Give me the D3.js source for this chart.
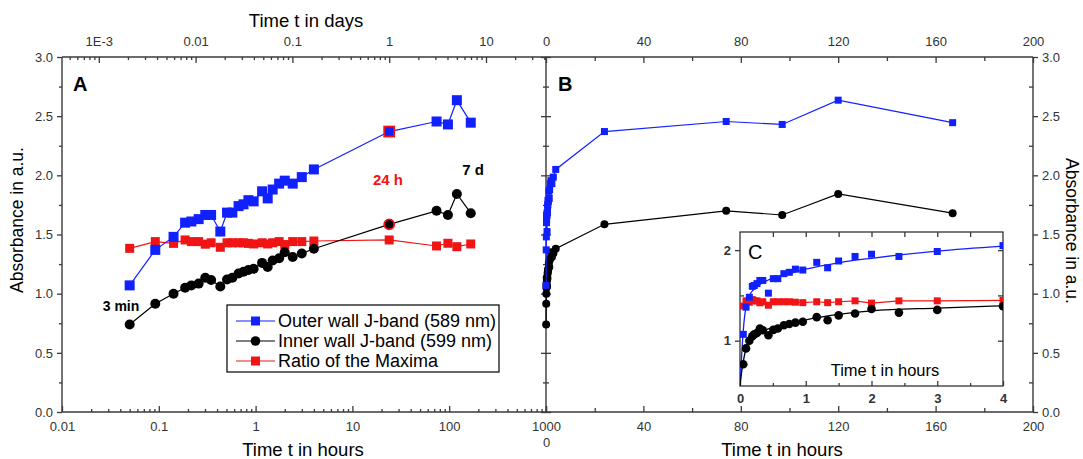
<!DOCTYPE html>
<html><head><meta charset="utf-8">
<script src="https://cdn.jsdelivr.net/npm/d3@7"></script>
<style>
body{margin:0;background:#fff;}
svg{display:block;font-family:"Liberation Sans",Arial,sans-serif;}
.axis path,.axis line{stroke:#3a3a3a;stroke-width:1.3;}
.axis text{fill:#333;font-size:13px;font-family:"Liberation Sans",Arial,sans-serif;}
</style></head>
<body>
<svg id="c" width="1083" height="459"></svg>
<script>
// time in hours
const hours = [0.05,0.092,0.142,0.187,0.217,0.258,0.302,0.347,0.432,0.507,0.575,0.667,0.75,0.843,0.955,1.167,1.333,1.5,1.75,2.0,2.417,3.0,4.0,24,74,97,120,167];
const outerWall = [1.07,1.37,1.48,1.60,1.61,1.63,1.665,1.665,1.525,1.685,1.685,1.74,1.755,1.79,1.78,1.865,1.805,1.88,1.93,1.955,1.93,1.985,2.05,2.37,2.455,2.43,2.635,2.445];
const innerWall = [0.74,0.915,1.0,1.05,1.07,1.085,1.135,1.115,1.06,1.12,1.135,1.17,1.185,1.2,1.21,1.26,1.225,1.28,1.30,1.35,1.31,1.34,1.38,1.586,1.70,1.665,1.843,1.68];
const ratioMax = [1.383,1.44,1.425,1.454,1.44,1.44,1.418,1.43,1.392,1.43,1.43,1.43,1.43,1.425,1.42,1.43,1.42,1.43,1.44,1.415,1.44,1.44,1.445,1.454,1.403,1.426,1.397,1.42];
// fit curves shown in inset C
const outerFitT = [0,0.03,0.06,0.1,0.15,0.2,0.3,0.43,0.7,1.0,1.5,2.0,3.0,4.0];
const outerFitV = [0.5,0.9,1.2,1.4,1.51,1.56,1.62,1.67,1.73,1.79,1.86,1.91,1.99,2.045];
const innerFitT = [0,0.03,0.05,0.1,0.15,0.2,0.3,0.43,0.7,1.0,1.5,2.0,3.0,4.0];
const innerFitV = [0.5,0.68,0.77,0.93,1.0,1.04,1.09,1.13,1.18,1.23,1.29,1.33,1.36,1.385];
// tick labels
const yTicks = [0,0.5,1,1.5,2,2.5,3];
const hourTicksLog = [0.01,0.1,1,10,100,1000];
const dayTicksLog = [0.001,0.01,0.1,1,10];
const dayTickLabels = ["1E-3","0.01","0.1","1","10"];
const hourTicksLin = [0,40,80,120,160,200];
const insetXTicks = [0,1,2,3,4];
const insetYTicks = [1,2];
const legendLabels = ["Outer wall J-band (589 nm)","Inner wall J-band (599 nm)","Ratio of the Maxima"];

const BLUE="#1020ff", RED="#f01414", BLACK="#000";
const svg = d3.select("#c");

const xA = d3.scaleLog().domain([0.01,1000]).range([62,546]);
const xAtop = d3.scaleLog().domain([0.01/24,1000/24]).range([62,546]);
const y = d3.scaleLinear().domain([0,3]).range([412,57]);
const xB = d3.scaleLinear().domain([0,200]).range([546,1033]);
const xC = d3.scaleLinear().domain([0,4]).range([740,1003]);
const yC = d3.scaleLinear().domain([0.5,2.2]).range([386,232]);

function logMinor(lo,hi){const r=[];for(let e=-4;e<=3;e++){for(let m=2;m<=9;m++){const v=m*Math.pow(10,e);if(v>lo&&v<hi)r.push(v);}}return r;}
function styleAxis(g){g.attr("class","axis");g.select(".domain").remove();}

// axis lines (frames)
const frame = svg.append("g").attr("stroke","#3a3a3a").attr("stroke-width",1.4).attr("fill","none");
frame.append("line").attr("x1",62).attr("x2",1033).attr("y1",57).attr("y2",57);
frame.append("line").attr("x1",62).attr("x2",1033).attr("y1",412).attr("y2",412);
frame.append("line").attr("x1",62).attr("x2",62).attr("y1",57).attr("y2",412);
frame.append("line").attr("x1",546).attr("x2",546).attr("y1",57).attr("y2",412);
frame.append("line").attr("x1",1033).attr("x2",1033).attr("y1",57).attr("y2",412);

// Panel A bottom
svg.append("g").attr("transform","translate(0,412)").call(d3.axisBottom(xA).tickValues(hourTicksLog).tickFormat(d=>d3.format("~g")(d)).tickSize(-6).tickPadding(14)).call(styleAxis)
  .selectAll("text").attr("dy","0.35em");
svg.append("g").attr("transform","translate(0,412)").call(d3.axisBottom(xA).tickValues(logMinor(0.01,1000)).tickFormat("").tickSize(-3)).call(styleAxis);
// Panel A top (days)
svg.append("g").attr("transform","translate(0,57)").call(d3.axisTop(xAtop).tickValues(dayTicksLog).tickFormat((d,i)=>dayTickLabels[i]).tickSize(-6).tickPadding(11)).call(styleAxis);
svg.append("g").attr("transform","translate(0,57)").call(d3.axisTop(xAtop).tickValues(logMinor(0.01/24,1000/24)).tickFormat("").tickSize(-3)).call(styleAxis);
// Panel A left
svg.append("g").attr("transform","translate(62,0)").call(d3.axisLeft(y).tickValues(yTicks).tickFormat(d3.format(".1f")).tickSize(5).tickPadding(4)).call(styleAxis);
svg.append("g").attr("transform","translate(62,0)").call(d3.axisLeft(y).tickValues([0.25,0.75,1.25,1.75,2.25,2.75]).tickFormat("").tickSize(3)).call(styleAxis);
// Panel B left (crossing ticks)
svg.append("g").attr("transform","translate(551,0)").call(d3.axisLeft(y).tickValues(yTicks).tickFormat("").tickSize(10)).call(styleAxis);
svg.append("g").attr("transform","translate(549,0)").call(d3.axisLeft(y).tickValues([0.25,0.75,1.25,1.75,2.25,2.75]).tickFormat("").tickSize(6)).call(styleAxis);
// Panel B right
svg.append("g").attr("transform","translate(1033,0)").call(d3.axisRight(y).tickValues(yTicks).tickFormat(d3.format(".1f")).tickSize(5).tickPadding(4)).call(styleAxis);
svg.append("g").attr("transform","translate(1033,0)").call(d3.axisRight(y).tickValues([0.25,0.75,1.25,1.75,2.25,2.75]).tickFormat("").tickSize(-4)).call(styleAxis);
// Panel B top
svg.append("g").attr("transform","translate(0,57)").call(d3.axisTop(xB).tickValues(hourTicksLin).tickFormat(d3.format("d")).tickSize(-6).tickPadding(11)).call(styleAxis);
svg.append("g").attr("transform","translate(0,57)").call(d3.axisTop(xB).tickValues([20,60,100,140,180]).tickFormat("").tickSize(-4)).call(styleAxis);
// Panel B bottom
const bb = svg.append("g").attr("transform","translate(0,412)").call(d3.axisBottom(xB).tickValues(hourTicksLin).tickFormat(d3.format("d")).tickSize(-6).tickPadding(14)).call(styleAxis);
bb.selectAll("text").attr("dy","0.35em");
bb.selectAll(".tick").filter(d=>d===0).select("text").attr("y",30).attr("fill","#666");
svg.append("g").attr("transform","translate(0,412)").call(d3.axisBottom(xB).tickValues([20,60,100,140,180]).tickFormat("").tickSize(-4)).call(styleAxis);

// titles
svg.append("text").attr("x",303).attr("y",456).attr("text-anchor","middle").attr("font-size",18.5).text("Time t in hours");
svg.append("text").attr("x",782).attr("y",456).attr("text-anchor","middle").attr("font-size",18.5).text("Time t in hours");
svg.append("text").attr("x",306).attr("y",27).attr("text-anchor","middle").attr("font-size",18.5).text("Time t in days");
svg.append("text").attr("transform","translate(23,220) rotate(-90)").attr("text-anchor","middle").attr("font-size",17.5).text("Absorbance in a.u.");
svg.append("text").attr("transform","translate(1066,231) rotate(90)").attr("text-anchor","middle").attr("font-size",17.5).text("Absorbance in a.u.");

// annotations
svg.append("text").attr("x",73).attr("y",91).attr("font-size",20).attr("font-weight","bold").text("A");
svg.append("text").attr("x",558).attr("y",91).attr("font-size",20).attr("font-weight","bold").text("B");
svg.append("text").attr("x",121).attr("y",311).attr("text-anchor","middle").attr("font-size",14).attr("font-weight","bold").text("3 min");
svg.append("text").attr("x",388).attr("y",185).attr("text-anchor","middle").attr("font-size",15).attr("font-weight","bold").attr("fill",RED).text("24 h");
svg.append("text").attr("x",473).attr("y",175).attr("text-anchor","middle").attr("font-size",15).attr("font-weight","bold").text("7 d");

const idx = d3.range(hours.length);
function drawSeries(g, xs, ys, vals, color, shape, size, lw, hiIdx){
  const line = d3.line().x(i=>xs(hours[i])).y(i=>ys(vals[i]));
  g.append("path").attr("d",line(idx)).attr("fill","none").attr("stroke",color).attr("stroke-width",lw);
  idx.forEach(i=>{
    const cx=xs(hours[i]), cy=ys(vals[i]);
    const hi = (i===hiIdx);
    if(shape==="square"){
      g.append("rect").attr("x",cx-size/2).attr("y",cy-size/2).attr("width",size).attr("height",size)
        .attr("fill",color).attr("stroke",hi?RED:"none").attr("stroke-width",hi?1.8:0);
    } else {
      g.append("circle").attr("cx",cx).attr("cy",cy).attr("r",size/2)
        .attr("fill",color).attr("stroke",hi?RED:"none").attr("stroke-width",hi?1.8:0);
    }
  });
}
const h24 = hours.indexOf(24);
// Panel A
const gA = svg.append("g");
drawSeries(gA,xA,y,ratioMax,RED,"square",9,1.2,-1);
drawSeries(gA,xA,y,innerWall,BLACK,"circle",10,1.2,h24);
drawSeries(gA,xA,y,outerWall,BLUE,"square",10,1.2,h24);
// Panel B
const gB = svg.append("g");
drawSeries(gB,xB,y,innerWall,BLACK,"circle",8,1.2,-1);
drawSeries(gB,xB,y,outerWall,BLUE,"square",7,1.2,-1);

// Legend
const lg = svg.append("g");
lg.append("rect").attr("x",227).attr("y",305).attr("width",272).attr("height",67).attr("fill","#fff").attr("stroke","#000").attr("stroke-width",1.2);
const legColors=[BLUE,BLACK,RED], legShapes=["square","circle","square"];
legendLabels.forEach((t,i)=>{
  const yy = 321+i*20;
  lg.append("line").attr("x1",236).attr("x2",275).attr("y1",yy).attr("y2",yy).attr("stroke",legColors[i]).attr("stroke-width",1.2);
  if(legShapes[i]==="square") lg.append("rect").attr("x",251).attr("y",yy-4.5).attr("width",9).attr("height",9).attr("fill",legColors[i]);
  else lg.append("circle").attr("cx",255.5).attr("cy",yy).attr("r",4.8).attr("fill",legColors[i]);
  lg.append("text").attr("x",278).attr("y",yy+6).attr("font-size",18).text(t);
});

// Inset C
const gC = svg.append("g");
gC.append("rect").attr("x",740).attr("y",232).attr("width",263).attr("height",154).attr("fill","#fff").attr("stroke","#222").attr("stroke-width",1.2);
gC.append("defs").append("clipPath").attr("id","clipC").append("rect").attr("x",740).attr("y",232).attr("width",263).attr("height",154);
const bC = gC.append("g").attr("transform","translate(0,386)").call(d3.axisBottom(xC).tickValues(insetXTicks).tickFormat(d3.format("d")).tickSize(-5).tickPadding(13)).call(styleAxis);
bC.selectAll("text").attr("font-size",11).attr("font-weight","bold").attr("fill","#222").attr("dy","0.3em");
gC.append("g").attr("transform","translate(0,386)").call(d3.axisBottom(xC).tickValues([0.5,1.5,2.5,3.5]).tickFormat("").tickSize(-3)).call(styleAxis);
gC.append("g").attr("transform","translate(0,232)").call(d3.axisTop(xC).tickValues([0.5,1,1.5,2,2.5,3,3.5]).tickFormat("").tickSize(-5)).call(styleAxis);
const lC = gC.append("g").attr("transform","translate(740,0)").call(d3.axisLeft(yC).tickValues(insetYTicks).tickFormat(d3.format("d")).tickSize(5).tickPadding(4)).call(styleAxis);
lC.selectAll("text").attr("font-size",11).attr("font-weight","bold").attr("fill","#222");
gC.append("g").attr("transform","translate(740,0)").call(d3.axisLeft(yC).tickValues([1.5]).tickFormat("").tickSize(-4)).call(styleAxis);
gC.append("g").attr("transform","translate(1003,0)").call(d3.axisRight(yC).tickValues([1,1.5,2]).tickFormat("").tickSize(-5)).call(styleAxis);
gC.append("text").attr("x",748).attr("y",259).attr("font-size",20).text("C");
gC.append("text").attr("x",885).attr("y",376).attr("text-anchor","middle").attr("font-size",16.5).text("Time t in hours");

const inner = gC.append("g").attr("clip-path","url(#clipC)");
const early = idx.filter(i=>hours[i]<=4);
// red connected
inner.append("path").attr("d",d3.line().x(i=>xC(hours[i])).y(i=>yC(ratioMax[i]))(early)).attr("fill","none").attr("stroke",RED).attr("stroke-width",1.2);
// fits
inner.append("path").attr("d",d3.line().x((t,i)=>xC(t)).y((t,i)=>yC(outerFitV[i])).curve(d3.curveMonotoneX)(outerFitT)).attr("fill","none").attr("stroke",BLUE).attr("stroke-width",1.3);
inner.append("path").attr("d",d3.line().x((t,i)=>xC(t)).y((t,i)=>yC(innerFitV[i])).curve(d3.curveMonotoneX)(innerFitT)).attr("fill","none").attr("stroke",BLACK).attr("stroke-width",1.3);
early.forEach(i=>{
  inner.append("rect").attr("x",xC(hours[i])-3.5).attr("y",yC(ratioMax[i])-3.5).attr("width",7).attr("height",7).attr("fill",RED);
});
early.forEach(i=>{
  inner.append("circle").attr("cx",xC(hours[i])).attr("cy",yC(innerWall[i])).attr("r",4.3).attr("fill",BLACK);
});
early.forEach(i=>{
  inner.append("rect").attr("x",xC(hours[i])-3.5).attr("y",yC(outerWall[i])-3.5).attr("width",7).attr("height",7).attr("fill",BLUE);
});
</script>
</body></html>
